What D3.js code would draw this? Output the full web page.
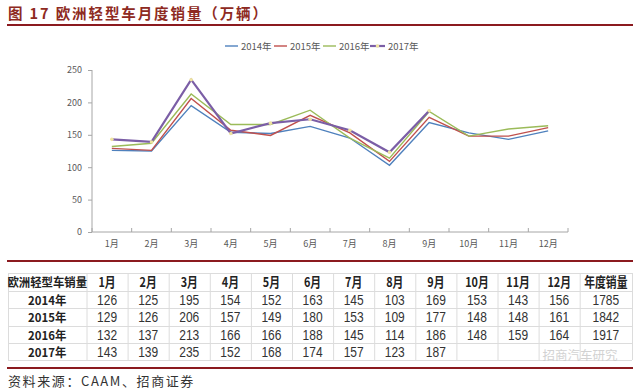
<!DOCTYPE html>
<html>
<head>
<meta charset="utf-8">
<script src="https://cdn.jsdelivr.net/npm/d3@7"></script>
<style>
  body { margin: 0; background: #fff; }
  svg { display: block; }
</style>
</head>
<body>
<div id="chart"></div>
<script>
// data
var months = ['1月','2月','3月','4月','5月','6月','7月','8月','9月','10月','11月','12月'];
var years = ['2014年','2015年','2016年','2017年'];
var s2014 = [126,125,195,154,152,163,145,103,169,153,143,156];
var s2015 = [129,126,206,157,149,180,153,109,177,148,148,161];
var s2016 = [132,137,213,166,166,188,145,114,186,148,159,164];
var s2017 = [143,139,235,152,168,174,157,123,187];
var annual = [1785,1842,1917,''];
var yTicks = [0,50,100,150,200,250];

var colors = ['#4f81bd','#c0504d','#9bbb59','#7b5ea6'];
var series = [s2014, s2015, s2016, s2017];

var W = 640, H = 391;
var svg = d3.select('#chart').append('svg')
  .attr('width', W)
  .attr('height', H);

var cjk = '"Noto Sans CJK SC", "Liberation Sans", sans-serif';
var num = '"Liberation Sans", "Noto Sans CJK SC", sans-serif';

// title
svg.append('text')
  .attr('x', 8).attr('y', 19)
  .style('font-family', cjk)
  .style('font-size', '14.5px')
  .style('font-weight', 'bold')
  .style('letter-spacing', '1.9px')
  .style('fill', '#8e2a22')
  .text('图 17 欧洲轻型车月度销量（万辆）');
svg.append('rect')
  .attr('x', 7).attr('y', 24).attr('width', 626).attr('height', 2)
  .style('fill', '#8b1a1f');

// chart
var x = d3.scaleBand().domain(months).range([92, 568]);
var y = d3.scaleLinear().domain([0, 250]).range([232, 70]);

var yAxis = svg.append('g')
  .attr('transform', 'translate(92,0)')
  .call(d3.axisLeft(y).tickValues(yTicks).tickSize(4).tickPadding(6));
var xAxis = svg.append('g')
  .attr('transform', 'translate(0,232)')
  .call(d3.axisBottom(x).tickSize(0).tickPadding(9));

// x ticks sit between categories
xAxis.selectAll('.cat-tick')
  .data(months.map(function(m){ return x(m) + x.bandwidth(); }).concat([92]))
  .enter().append('line')
  .attr('class', 'cat-tick')
  .attr('x1', function(d){ return d; })
  .attr('x2', function(d){ return d; })
  .attr('y1', 0).attr('y2', -4);

[yAxis, xAxis].forEach(function(a){
  a.selectAll('path, line').style('stroke', '#a6a6a6');
  a.select('.domain').attr('d', null);
  a.selectAll('text')
    .style('font-family', cjk)
    .style('font-size', '9px')
    .style('fill', '#595959');
});
yAxis.append('line').attr('x1', 0).attr('x2', 0).attr('y1', 70).attr('y2', 232).style('stroke', '#a6a6a6');
xAxis.append('line').attr('x1', 92).attr('x2', 568).attr('y1', 0).attr('y2', 0).style('stroke', '#a6a6a6');

var line = d3.line()
  .x(function(d, i){ return x(months[i]) + x.bandwidth() / 2; })
  .y(function(d){ return y(d); });

series.forEach(function(s, k){
  svg.append('path')
    .datum(s)
    .attr('d', line)
    .style('fill', 'none')
    .style('stroke', colors[k])
    .style('stroke-width', k == 3 ? 2.2 : 1.4)
    .style('stroke-linejoin', 'miter');
});

// 2017 markers
svg.selectAll('.mk').data(s2017).enter().append('circle')
  .attr('class', 'mk')
  .attr('cx', function(d, i){ return x(months[i]) + x.bandwidth() / 2; })
  .attr('cy', function(d){ return y(d); })
  .attr('r', 1.8)
  .style('fill', '#eee3a0');

// legend
var lx = [225, 274, 323, 370];
var leg = svg.selectAll('.leg').data(years).enter().append('g')
  .attr('transform', function(d, i){ return 'translate(' + lx[i] + ',46)'; });
leg.append('line')
  .attr('x1', 0).attr('x2', function(d, i){ return i == 3 ? 15 : 13; })
  .attr('y1', 0).attr('y2', 0)
  .style('stroke', function(d, i){ return colors[i]; })
  .style('stroke-width', function(d, i){ return i == 3 ? 2.2 : 1.4; });
leg.filter(function(d, i){ return i == 3; }).append('circle')
  .attr('cx', 7.5).attr('cy', 0).attr('r', 1.8).style('fill', '#eee3a0');
leg.append('text')
  .attr('x', function(d, i){ return i == 3 ? 18 : 16; })
  .attr('y', 3.5)
  .style('font-family', cjk)
  .style('font-size', '9.5px')
  .style('fill', '#595959')
  .text(function(d){ return d; });

// table
svg.append('rect')
  .attr('x', 7).attr('y', 260).attr('width', 626).attr('height', 2)
  .style('fill', '#8b1a1f');

var header = ['欧洲轻型车销量'].concat(months).concat(['年度销量']);
var colEdges = [8].concat(d3.range(13).map(function(i){ return 86.5 + i * 41.1; })).concat([632]);
var rowEdges = [273, 291, 308, 326, 343, 360];
var rows = [header].concat(series.map(function(s, k){
  var r = [years[k]];
  for (var i = 0; i < 12; i++) r.push(s[i] == null ? '' : s[i]);
  r.push(annual[k]);
  return r;
}));

var grid = svg.append('g').style('stroke', '#dcdcdc').style('stroke-width', 1);
rowEdges.forEach(function(yy){
  grid.append('line').attr('x1', 8).attr('x2', 632).attr('y1', yy + 0.5).attr('y2', yy + 0.5);
});
colEdges.forEach(function(xx){
  grid.append('line').attr('x1', xx + 0.5).attr('x2', xx + 0.5).attr('y1', 273).attr('y2', 360);
});

function fontSize(ri, ci){
  if (ci == 0) return 12;
  if (ri == 0) return 13.5;
  return 15;
}

rows.forEach(function(r, ri){
  var cy = (rowEdges[ri] + rowEdges[ri + 1]) / 2;
  svg.selectAll('.r' + ri).data(r).enter().append('text')
    .attr('class', 'r' + ri)
    .attr('transform', function(d, ci){
      var cx = (colEdges[ci] + colEdges[ci + 1]) / 2;
      var sx = (ci == 0) ? 0.95 : 0.8;
      return 'translate(' + cx + ',' + (cy + 5) + ') scale(' + sx + ',1)';
    })
    .attr('text-anchor', 'middle')
    .style('font-family', function(d, ci){ return (ri == 0 || ci == 0) ? cjk : num; })
    .style('font-size', function(d, ci){ return fontSize(ri, ci) + 'px'; })
    .style('font-weight', function(d, ci){ return (ri == 0 || ci == 0) ? 'bold' : 'normal'; })
    .style('fill', function(d, ci){ return (ri == 0 || ci == 0) ? '#222' : '#333'; })
    .text(function(d){ return d; });
});

// watermark
svg.append('text')
  .attr('x', 580).attr('y', 360)
  .attr('text-anchor', 'middle')
  .style('font-family', cjk)
  .style('font-size', '12.5px')
  .style('fill', '#c8c8c8')
  .style('opacity', 0.8)
  .text('招商汽车研究');

svg.append('rect')
  .attr('x', 7).attr('y', 367).attr('width', 626).attr('height', 2)
  .style('fill', '#8b1a1f');

// source
svg.append('text')
  .attr('x', 8).attr('y', 386)
  .style('font-family', cjk)
  .style('font-size', '13px')
  .style('letter-spacing', '1.6px')
  .style('fill', '#333')
  .text('资料来源：CAAM、招商证券');
</script>
</body>
</html>
